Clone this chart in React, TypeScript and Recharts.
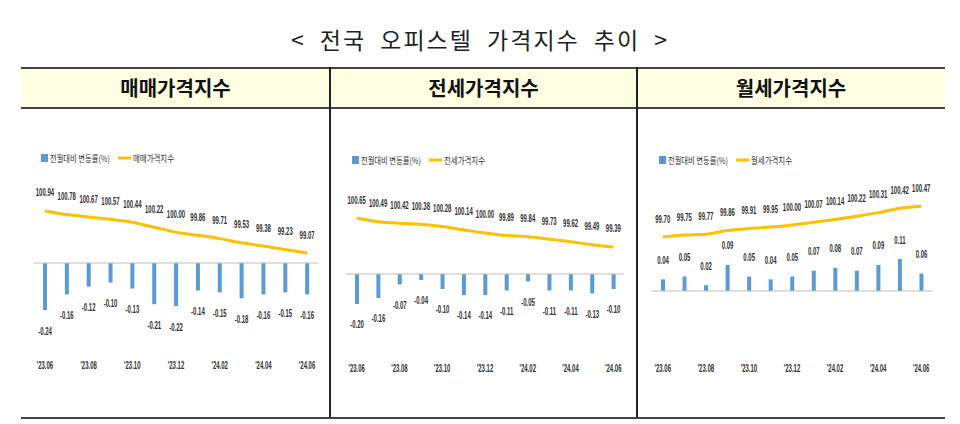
import React from "react";
import {
  ComposedChart,
  Bar,
  Line,
  XAxis,
  YAxis,
  ReferenceLine,
  LabelList,
} from "recharts";

const months = [
  "'23.06", "'23.07", "'23.08", "'23.09", "'23.10", "'23.11", "'23.12",
  "'24.01", "'24.02", "'24.03", "'24.04", "'24.05", "'24.06",
];

const saleIndex = [100.94, 100.78, 100.67, 100.57, 100.44, 100.22, 100.0, 99.86, 99.71, 99.53, 99.38, 99.23, 99.07];
const saleChange = [-0.24, -0.16, -0.12, -0.1, -0.13, -0.21, -0.22, -0.14, -0.15, -0.18, -0.16, -0.15, -0.16];

const jeonseIndex = [100.65, 100.49, 100.42, 100.38, 100.28, 100.14, 100.0, 99.89, 99.84, 99.73, 99.62, 99.49, 99.39];
const jeonseChange = [-0.2, -0.16, -0.07, -0.04, -0.1, -0.14, -0.14, -0.11, -0.05, -0.11, -0.11, -0.13, -0.1];

const rentIndex = [99.7, 99.75, 99.77, 99.86, 99.91, 99.95, 100.0, 100.07, 100.14, 100.22, 100.31, 100.42, 100.47];
const rentChange = [0.04, 0.05, 0.02, 0.09, 0.05, 0.04, 0.05, 0.07, 0.08, 0.07, 0.09, 0.11, 0.06];

const changeName = "전월대비 변동률(%)";

const BLUE = "#5B9BD5";
const GOLD = "#FFC000";
const LABEL = "#333";

type Panel = {
  title: string;
  index: number[];
  change: number[];
  left: number;
  width: number;
  margin: { top: number; right: number; bottom: number; left: number };
  barDomain: [number, number];
  indexDomain: [number, number];
  legendTop: number;
  legendLeft: number;
};

const panels: Panel[] = [
  {
    title: "매매가격지수",
    index: saleIndex,
    change: saleChange,
    left: 22,
    width: 306,
    margin: { top: 60, right: 10, bottom: 40, left: 12 },
    barDomain: [-0.469, 0.474],
    indexDomain: [94.54, 102.76],
    legendTop: 152,
    legendLeft: 41,
  },
  {
    title: "전세가격지수",
    index: jeonseIndex,
    change: jeonseChange,
    left: 332,
    width: 303,
    margin: { top: 60, right: 11, bottom: 37, left: 14 },
    barDomain: [-0.56, 0.693],
    indexDomain: [94.56, 102.74],
    legendTop: 154,
    legendLeft: 352,
  },
  {
    title: "월세가격지수",
    index: rentIndex,
    change: rentChange,
    left: 639,
    width: 304,
    margin: { top: 60, right: 11, bottom: 37, left: 13 },
    barDomain: [-0.231, 0.417],
    indexDomain: [96.675, 101.375],
    legendTop: 154,
    legendLeft: 659,
  },
];

function Narrow({ x, y, text, size = 10 }: { x: number; y: number; text: string; size?: number }) {
  return (
    <text
      transform={`translate(${x},${y}) scale(0.6,1)`}
      textAnchor="middle"
      fontSize={size}
      fontWeight={700}
      fill={LABEL}
      fontFamily="'Liberation Sans', Arial, sans-serif"
    >
      {text}
    </text>
  );
}

const barLabel = (props: any) => {
  const vb = props.viewBox ?? {};
  const x = Number(props.x ?? vb.x);
  const y = Number(props.y ?? vb.y);
  const w = Number(props.width ?? vb.width);
  const h = Number(props.height ?? vb.height);
  const v = Number(props.value);
  const top = Math.min(y, y + h);
  const bottom = Math.max(y, y + h);
  const cy = v < 0 ? bottom + 21 : top - 19;
  return <Narrow x={x + w / 2} y={cy + 3.5} text={v.toFixed(2)} />;
};

const lineLabel = (props: any) => {
  const vb = props.viewBox ?? {};
  const x = Number(props.x ?? vb.x);
  const y = Number(props.y ?? vb.y);
  return <Narrow x={x} y={y - 14.5} text={Number(props.value).toFixed(2)} />;
};

const MonthTick = (props: any) => (
  <Narrow x={props.x} y={props.y + 5.5} text={props.payload.value} size={10} />
);

function Legend({ p }: { p: Panel }) {
  return (
    <svg
      width={150}
      height={12}
      style={{ position: "absolute", left: p.legendLeft, top: p.legendTop }}
    >
      <rect x={0} y={2} width={7} height={8} fill={BLUE} />
      <text
        x={9}
        y={9.5}
        fontSize={9}
        fill={LABEL}
        textLength={60}
        lengthAdjust="spacingAndGlyphs"
        fontFamily="'Noto Sans CJK KR', sans-serif"
      >
        {changeName}
      </text>
      <line x1={77} x2={90} y1={6} y2={6} stroke={GOLD} strokeWidth={3} />
      <text
        x={92}
        y={9.5}
        fontSize={9}
        fill={LABEL}
        textLength={41}
        lengthAdjust="spacingAndGlyphs"
        fontFamily="'Noto Sans CJK KR', sans-serif"
      >
        {p.title}
      </text>
    </svg>
  );
}

function PanelChart({ p }: { p: Panel }) {
  const data = months.map((m, i) => ({ month: m, chg: p.change[i], idx: p.index[i] }));
  return (
    <div style={{ position: "absolute", left: p.left, top: 110 }}>
      <ComposedChart width={p.width} height={305} data={data} margin={p.margin}>
        <XAxis
          dataKey="month"
          interval={1}
          tick={<MonthTick />}
          axisLine={false}
          tickLine={false}
          height={20}
        />
        <YAxis yAxisId="bar" hide domain={p.barDomain} allowDataOverflow />
        <YAxis yAxisId="idx" orientation="right" hide domain={p.indexDomain} allowDataOverflow />
        <ReferenceLine yAxisId="bar" y={0} stroke="#BFBFBF" strokeWidth={1} />
        <Bar yAxisId="bar" dataKey="chg" fill={BLUE} barSize={4} isAnimationActive={false}>
          <LabelList dataKey="chg" content={barLabel} />
        </Bar>
        <Line
          yAxisId="idx"
          type="monotone"
          dataKey="idx"
          stroke={GOLD}
          strokeWidth={3}
          dot={false}
          isAnimationActive={false}
        >
          <LabelList dataKey="idx" content={lineLabel} />
        </Line>
      </ComposedChart>
    </div>
  );
}

const columns = [
  [21, 330],
  [330, 637],
  [637, 945],
];

export default function App() {
  return (
    <div
      style={{
        position: "absolute",
        left: 0,
        top: 0,
        width: 960,
        height: 424,
        background: "#fff",
        overflow: "hidden",
        fontFamily: "'Noto Sans CJK KR', sans-serif",
      }}
    >
      <div
        style={{
          position: "absolute",
          top: 25,
          left: 0,
          width: 960,
          textAlign: "center",
          fontSize: 23,
          lineHeight: "28px",
          letterSpacing: 2,
          wordSpacing: 7,
          color: "#222",
        }}
      >
        {"< 전국 오피스텔 가격지수 추이 >"}
      </div>

      <div
        style={{
          position: "absolute",
          top: 67,
          left: 21,
          width: 924,
          height: 38,
          background: "#FFFFE3",
          borderTop: "2px solid #444",
          borderBottom: "2px solid #444",
        }}
      />
      {panels.map((p, i) => (
        <div
          key={p.title}
          style={{
            position: "absolute",
            top: 75,
            left: columns[i][0],
            width: columns[i][1] - columns[i][0],
            textAlign: "center",
            fontSize: 20,
            lineHeight: "26px",
            fontWeight: 700,
            letterSpacing: 0,
            color: "#111",
          }}
        >
          {p.title}
        </div>
      ))}
      {[329, 636].map((x) => (
        <div
          key={x}
          style={{ position: "absolute", left: x, top: 67, width: 1.5, height: 352, background: "#222" }}
        />
      ))}
      <div
        style={{ position: "absolute", left: 21, top: 417, width: 924, height: 2, background: "#444" }}
      />

      {panels.map((p) => (
        <React.Fragment key={p.title}>
          <Legend p={p} />
          <PanelChart p={p} />
        </React.Fragment>
      ))}
    </div>
  );
}
